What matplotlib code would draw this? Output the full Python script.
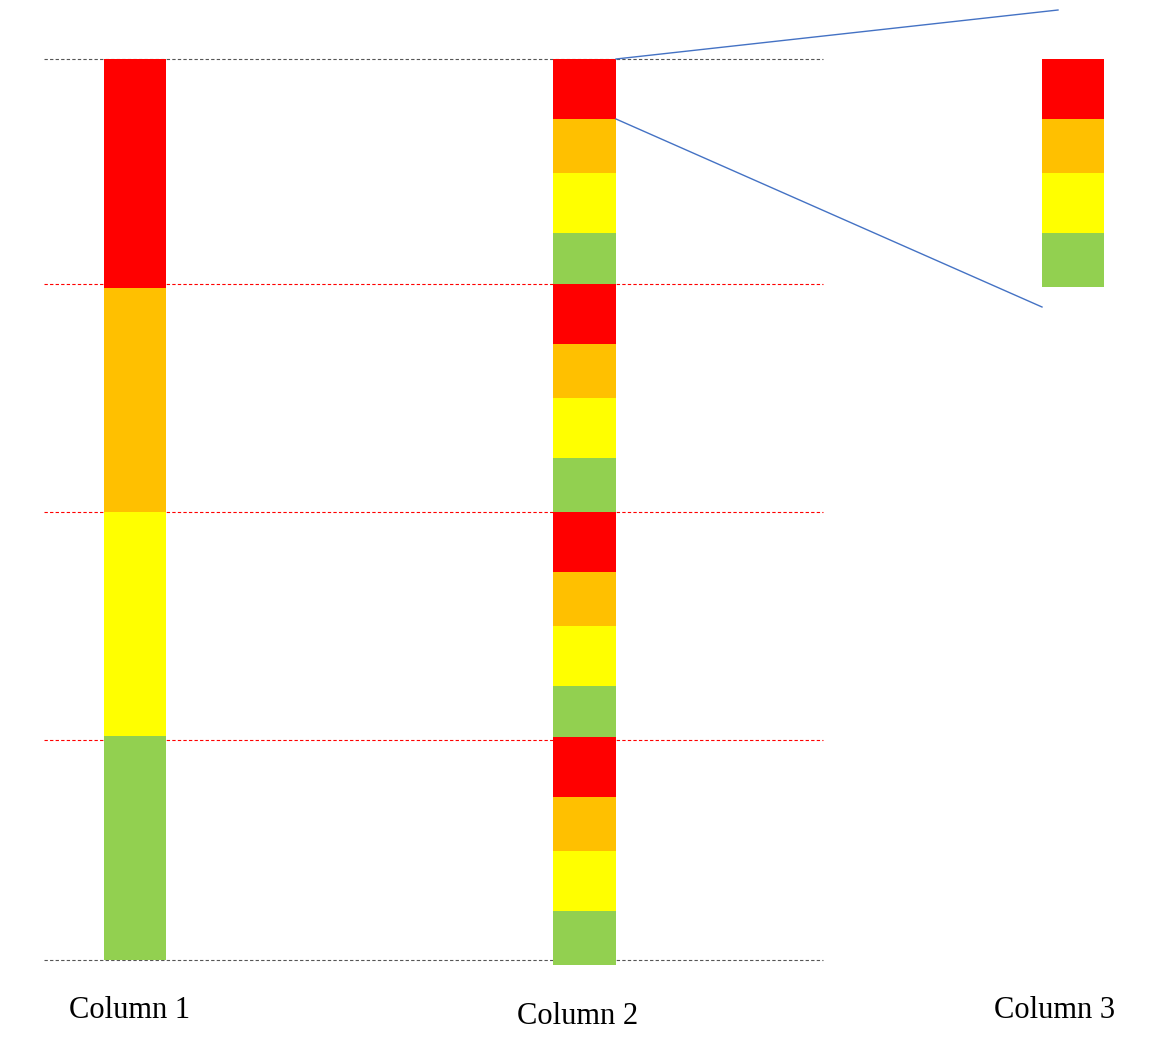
import matplotlib.pyplot as plt

colors = ["#FF0000", "#FFC000", "#FFFF00", "#92D050"]
col1_heights = [229, 224, 224, 224]
col2_heights = [60, 54, 60, 51, 60, 54, 60, 54, 60, 54, 60, 51, 60, 54, 60, 54]
col3_heights = [60, 54, 60, 54]
labels = ["Column 1", "Column 2", "Column 3"]

fig = plt.figure(figsize=(11.73, 10.42), dpi=100)
ax = fig.add_axes([0, 0, 1, 1])
ax.set_xlim(0, 1173)
ax.set_ylim(1042, 0)
ax.axis("off")


def stack(x, heights, width=62, top=59):
    y = top
    for i, h in enumerate(heights):
        ax.bar(x, h, bottom=y, width=width, color=colors[i % 4], align="edge", zorder=2)
        y += h


stack(104, col1_heights)
stack(553, col2_heights, width=63)
stack(1042, col3_heights)

# guide lines
for y in [59, 960]:
    ax.plot([44, 823], [y, y], ls=(0, (3, 2)), color="#555555", lw=0.8, zorder=1)
for y in [284, 512, 740]:
    ax.plot([44, 823], [y, y], ls=(0, (3, 2)), color="#FF0000", lw=0.8, zorder=1)

# zoom lines
ax.plot([616, 1058], [59, 10], color="#4472C4", lw=1)
ax.plot([616, 119 and 616], [119, 119], color="#4472C4", lw=0)
ax.plot([616, 1042], [119, 307], color="#4472C4", lw=1)

for x, y, t in zip([130, 578, 1055], [1010, 1016, 1010], labels):
    ax.text(x, y, t, ha="center", va="center", fontsize=22, family="Liberation Serif")

fig.savefig("out.png")
